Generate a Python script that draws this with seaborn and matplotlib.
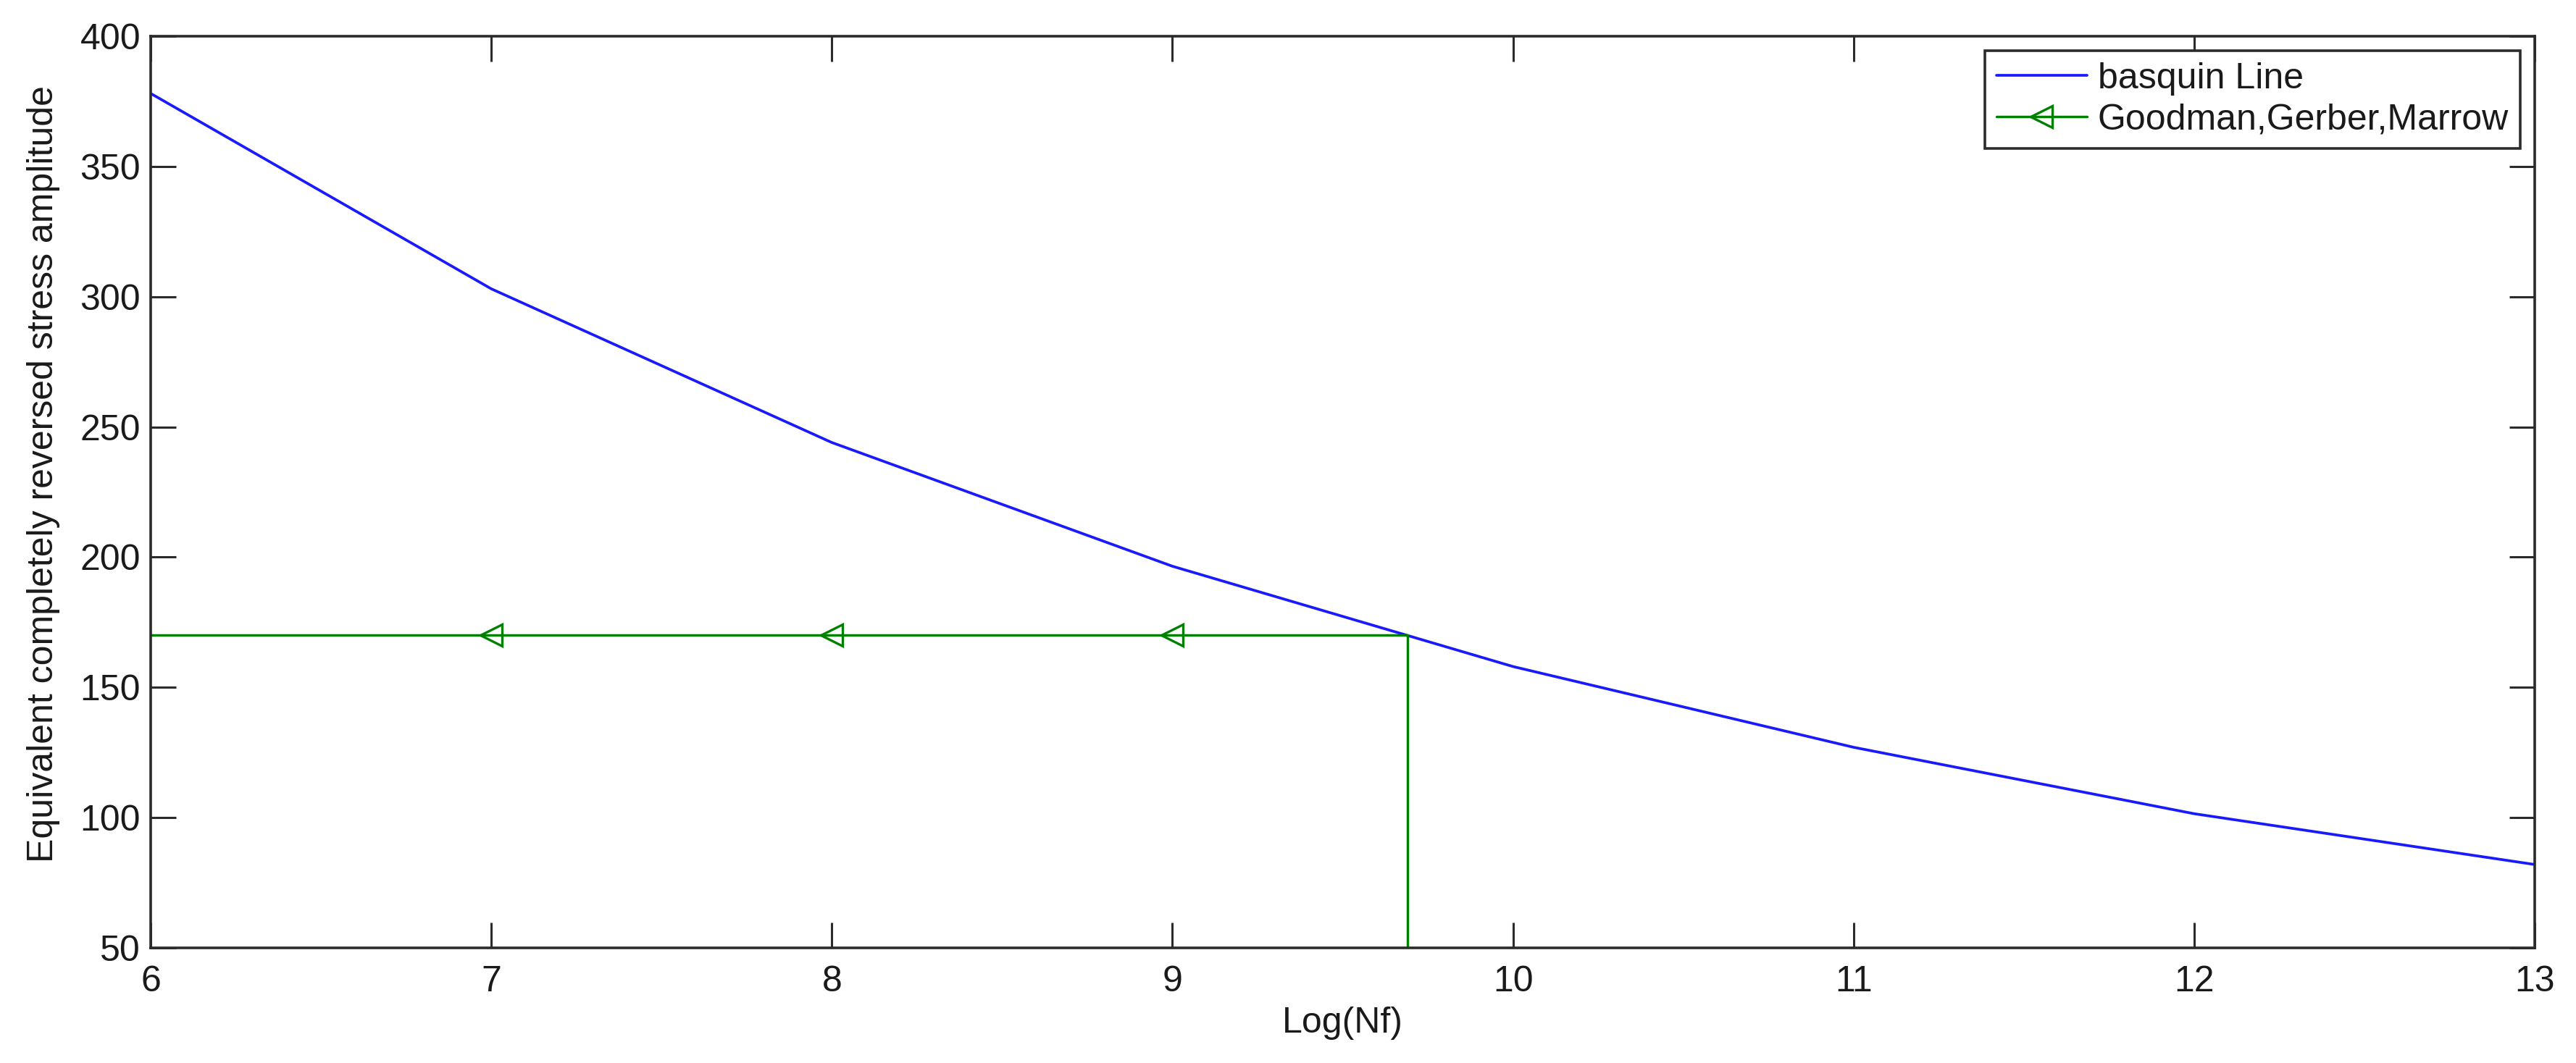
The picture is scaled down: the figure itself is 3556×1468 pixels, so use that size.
import numpy as np
import pandas as pd
import matplotlib
matplotlib.use("Agg")
import matplotlib.pyplot as plt
import seaborn as sns

sns.set_theme(style="ticks")
plt.rcParams['font.family'] = ['Liberation Sans', 'DejaVu Sans']

### Data
log_nf = [6, 7, 8, 9, 10, 11, 12, 13]
basquin = [378, 303, 244, 196.5, 158, 127, 101.5, 82]

goodman_x = [6, 7, 8, 9, 9.69, 9.69]
goodman_y = [170, 170, 170, 170, 170, 50]

x_ticks = [6, 7, 8, 9, 10, 11, 12, 13]
y_ticks = [50, 100, 150, 200, 250, 300, 350, 400]

df_b = pd.DataFrame({'logNf': log_nf, 'stress': basquin})
df_g = pd.DataFrame({'logNf': goodman_x, 'stress': goodman_y})

fs = 18
edge = '#2b2b2b'

fig = plt.figure(figsize=(17.78, 7.34), dpi=200)
ax = fig.add_axes([0.0585, 0.1083, 0.9255, 0.8577])

sns.lineplot(data=df_b, x='logNf', y='stress', ax=ax, color='#1a1aff',
             linewidth=1.35, label='basquin Line', estimator=None, sort=False)
sns.lineplot(data=df_g, x='logNf', y='stress', ax=ax, color='#008000',
             linewidth=1.25, label='Goodman,Gerber,Marrow', estimator=None, sort=False,
             marker='<', markersize=10.5, markerfacecolor='none', markeredgecolor='#008000',
             markeredgewidth=1.2, markevery=[1, 2, 3])

ax.set_xlim(6, 13)
ax.set_ylim(50, 400)
ax.set_xticks(x_ticks)
ax.set_yticks(y_ticks)
ax.set_xticklabels([str(t) for t in x_ticks])
ax.set_yticklabels([str(t) for t in y_ticks])

for s in ax.spines.values():
    s.set_visible(True)
    s.set_linewidth(1.3)
    s.set_color(edge)

ax.tick_params(axis='both', which='major', direction='in', length=12.6, width=1.1,
               color=edge, labelsize=fs, labelcolor='#1a1a1a', top=True, right=True)
ax.tick_params(axis='x', pad=8.5)
ax.tick_params(axis='y', pad=5)

ax.set_xlabel('Log(Nf)', fontsize=fs, color='#1a1a1a', labelpad=4)
ax.set_ylabel('Equivalent completely reversed stress amplitude', fontsize=fs, color='#1a1a1a')
ax.yaxis.set_label_coords(-0.038, 0.52)

leg = ax.legend(loc='upper right', fontsize=fs, frameon=True, fancybox=False, shadow=False,
                framealpha=1, edgecolor=edge, borderpad=0.32, labelspacing=0.22,
                handlelength=2.5, handletextpad=0.3, borderaxespad=0.4)
leg.get_frame().set_linewidth(1.3)
for t in leg.get_texts():
    t.set_color('#1a1a1a')

fig.savefig('out.png', dpi=200, facecolor='white')
